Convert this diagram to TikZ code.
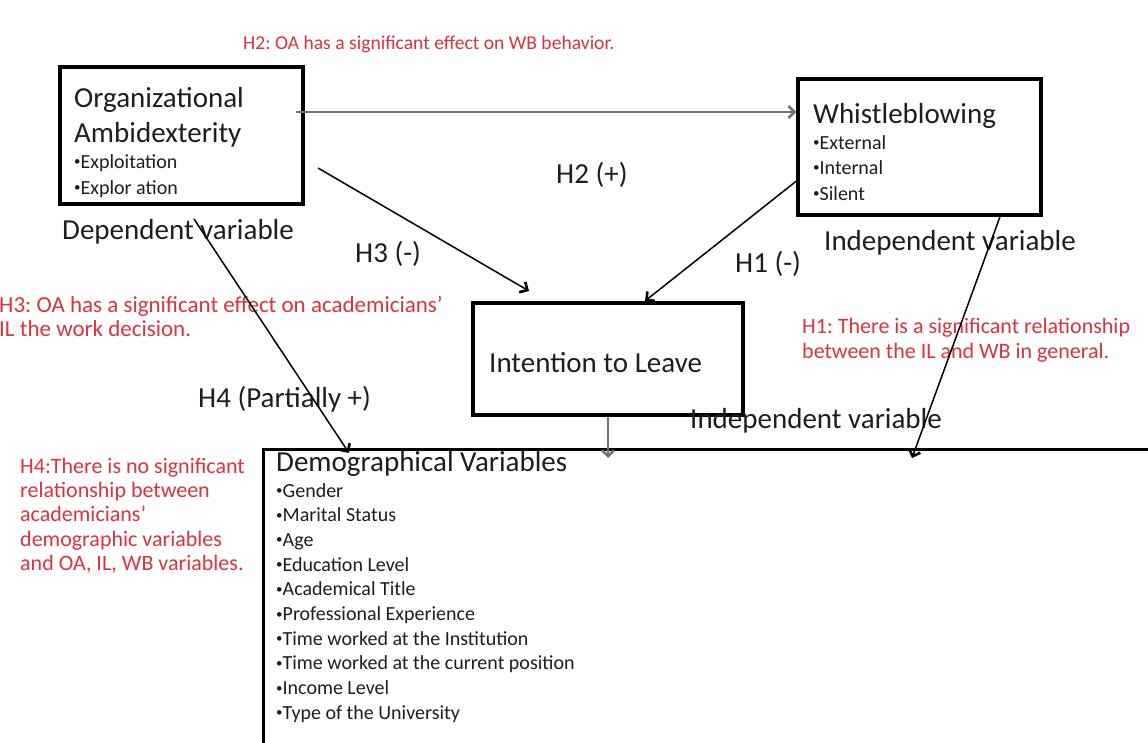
\documentclass[tikz,border=0pt]{standalone}
\usepackage{fontspec}
\setmainfont{Carlito}
\usetikzlibrary{arrows.meta,calc}
\definecolor{hred}{RGB}{222,50,64}
\definecolor{agray}{RGB}{115,115,115}
\definecolor{ink}{RGB}{30,30,30}
\newcommand\bul{\raisebox{2.5pt}{\fontsize{13}{13}\selectfont •}}
\frenchspacing
\begin{document}
\begin{tikzpicture}[x=1pt,y=-1pt,
  box/.style={draw, line width=3.2pt, inner sep=0pt},
  ttl/.style={anchor=base west, inner sep=0pt, text=ink, font=\fontsize{29}{34}\selectfont},
  itm/.style={anchor=base west, inner sep=0pt, text=ink, font=\fontsize{20}{24}\selectfont},
  rtx/.style={anchor=base west, inner sep=0pt, text=hred, font=\fontsize{22}{24}\selectfont},
  arr/.style={line width=1.5pt, -{Straight Barb[length=6pt,width=12pt,line width=2.6pt]}},
  garr/.style={draw=agray, line width=2.6pt, -{Straight Barb[length=6pt,width=12pt,line width=2.6pt]}}
]
\useasboundingbox (0,0) rectangle (1148,742);
\clip (0,0) rectangle (1148,742);
\fill[white] (0,0) rectangle (1148,742);

% boxes
\node[box, minimum width=243pt, minimum height=137pt] (oa) at (181.5,135.5) {};
\node[box, minimum width=243pt, minimum height=136pt] (wb) at (919.5,147) {};
\node[box, minimum width=270pt, minimum height=112pt] (il) at (608,359) {};
\node[box, anchor=north west, minimum width=1000pt, minimum height=400pt] (demo) at (262,448) {};

% OA texts
\node[ttl] (oa1) at (74,107) {Organizational};
\node[ttl] (oa2) at (74,142) {Ambidexterity};
\node[itm] (oa3) at (74,168) {\bul Exploitation};
\node[itm] (oa4) at (74,194) {\bul Explor ation};
\node[ttl] (dep) at (62,239) {Dependent variable};

% WB texts
\node[ttl] (wb1) at (813,123) {Whistleblowing};
\node[itm] (wb2) at (813,149) {\bul External};
\node[itm] (wb3) at (813,174) {\bul Internal};
\node[itm] (wb4) at (813,200) {\bul Silent};
\node[ttl] (ind1) at (824,250) {Independent variable};

% IL
\node[ttl] (il1) at (489,372) {Intention to Leave};
\node[ttl] (ind2) at (690,428) {Independent variable};

% Demo
\node[ttl] (dm0) at (276,471) {Demographical Variables};
\foreach \t [count=\i from 0] in {Gender, Marital Status, Age, Education Level, Academical Title, Professional Experience, Time worked at the Institution, Time worked at the current position, Income Level, Type of the University}{
  \node[itm] (dm\i) at (276,497+24.7*\i) {\bul\t};
}

% hypothesis labels
\node[ttl] (lh2) at (556,183) {H2 (+)};
\node[ttl] (lh3) at (355,262) {H3 (-)};
\node[ttl] (lh1) at (735,272) {H1 (-)};
\node[ttl] (lh4) at (198,407) {H4 (Partially +)};

% red texts
\node[rtx, font=\fontsize{19.6}{24}\selectfont] (r2) at (243,49) {H2: OA has a significant effect on WB behavior.};
\node[rtx, font=\fontsize{23}{24}\selectfont] (r3a) at (-1,312) {H3: OA has a significant effect on academicians'};
\node[rtx, font=\fontsize{23}{24}\selectfont] (r3b) at (-1,336) {IL the work decision.};
\node[rtx] (r1a) at (802,333) {H1: There is a significant relationship};
\node[rtx] (r1b) at (802,358) {between the IL and WB in general.};
\foreach \t [count=\i from 0] in {H4:There is no significant, relationship between, academicians', demographic variables, {and OA, IL, WB variables.}}{
  \node[rtx] (r4\i) at (20,473+24.4*\i) {\t};
}

% connectors
\coordinate (h2s) at (296,112);
\draw[garr] (h2s) -- (wb.west |- h2s);
\coordinate (h3s) at (318,168);
\coordinate (h3e) at (529,291);
\draw[arr] (h3s) -- (h3e);
\coordinate (h1e) at (645,301);
\draw[arr] (wb.west |- 0,181) -- (h1e);
\coordinate (h4s) at (194,219);
\coordinate (h4e) at (349,453);
\draw[arr] (h4s) -- (h4e);
\draw[garr] (il.south) -- (il.south |- 0,458);
\coordinate (wbd) at (912,458);
\draw[arr] (wb.south -| 1000,0) -- (wbd);
\end{tikzpicture}
\end{document}
